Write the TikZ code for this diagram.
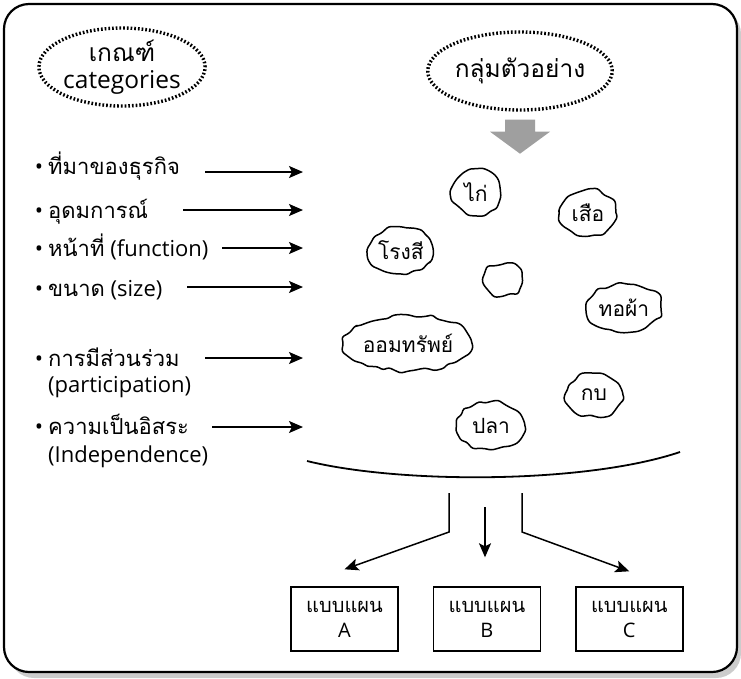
\documentclass[tikz,border=0pt]{standalone}
\usepackage{fontspec}
\setmainfont{Open Sans}
\newfontfamily\thaifont[Script=Thai]{Loma}
\usetikzlibrary{shapes.geometric,arrows.meta,positioning,calc,decorations.pathmorphing}

\begin{document}
\begin{tikzpicture}[
  x=1pt, y=-1pt,
  >={Stealth[length=14pt,width=12pt,inset=3pt]},
  every node/.style={align=center, inner sep=0pt},
  item/.style={anchor=base west, font=\fontsize{22}{26}\selectfont},
  ring/.style={ellipse, draw, line width=3.4pt, dash pattern=on 1.7pt off 2pt, minimum width=136pt, minimum height=78pt, font=\fontsize{24.5}{27}\selectfont},
  blob/.style={ellipse, draw, line width=1.5pt, line join=round, decorate, decoration={random steps, segment length=7pt, amplitude=2.4pt, pre length=3pt, post length=3pt}, rounded corners=2.5pt, font=\fontsize{21}{24}\selectfont},
  plan/.style={rectangle, draw, line width=1.4pt, minimum width=107pt, minimum height=64pt, font=\fontsize{20}{25}\selectfont},
  feed/.style={->, line width=1.5pt}
]
  \pgfmathsetseed{11}
  \useasboundingbox (0,0) rectangle (741,678);

  % Outer panel with shadow
  \fill[gray!40, rounded corners=25pt] (9,9) rectangle (741,678);
  \draw[line width=2.2pt, fill=white, rounded corners=25pt] (4,4) rectangle (737,672);

  % Heads of both columns
  \node[ring] (crit) at (122,67) {{\thaifont เกณฑ์}\\categories};
  \node[ring] (sample) at (520,71) {{\thaifont กลุ่มตัวอย่าง}};
  \coordinate (gtop) at ($(sample.south)+(0,8)$);
  \fill[gray!75] ($(gtop)+(-15,0)$) -- ++(30,0) -- ++(0,12) -- ++(15,0) -- ++(-30,22) -- ++(-30,-22) -- ++(15,0) -- cycle;

  % Criteria (left column)
  \node[item] (c1) at (48,174) {\llap{\textbullet\hspace{5pt}}{\thaifont ที่มาของธุรกิจ}};
  \node[item] (c2) at (48,218) {\llap{\textbullet\hspace{5pt}}{\thaifont อุดมการณ์}};
  \node[item] (c3) at (48,256) {\llap{\textbullet\hspace{5pt}}{\thaifont หน้าที่} (function)};
  \node[item] (c4) at (48,296) {\llap{\textbullet\hspace{5pt}}{\thaifont ขนาด} (size)};
  \node[item] (c5) at (48,366) {\llap{\textbullet\hspace{5pt}}{\thaifont การมีส่วนร่วม}};
  \node[item] (c5b) at (48,392) {(participation)};
  \node[item] (c6) at (48,434) {\llap{\textbullet\hspace{5pt}}{\thaifont ความเป็นอิสระ}};
  \node[item] (c6b) at (48,462) {(Independence)};

  \coordinate (s1) at (205,172); \coordinate (e1) at (303,172);
  \coordinate (s2) at (183,210); \coordinate (e2) at (303,210);
  \coordinate (s3) at (222,248); \coordinate (e3) at (303,248);
  \coordinate (s4) at (187,287); \coordinate (e4) at (303,287);
  \coordinate (s5) at (205,358); \coordinate (e5) at (303,358);
  \coordinate (s6) at (212,427); \coordinate (e6) at (303,427);

  % Sample units (right column)
  \node[blob, minimum width=49pt, minimum height=45pt] (kai) at (476,192) {{\thaifont ไก่}};
  \node[blob, minimum width=56pt, minimum height=46pt] (suea) at (588,213) {{\thaifont เสือ}};
  \node[blob, minimum width=64pt, minimum height=46pt] (rongsi) at (401,250) {{\thaifont โรงสี}};
  \node[blob, minimum width=39pt, minimum height=31pt] (blank) at (503,280) {};
  \node[blob, minimum width=74pt, minimum height=49pt] (thopha) at (624,308) {{\thaifont ทอผ้า}};
  \node[blob, minimum width=99pt, minimum height=56pt] (omsap) at (408,343) {{\thaifont ออมทรัพย์}};
  \node[blob, minimum width=58pt, minimum height=42pt] (kob) at (594,395) {{\thaifont กบ}};
  \node[blob, minimum width=68pt, minimum height=48pt] (pla) at (491,426) {{\thaifont ปลา}};

  % Collecting curve
  \coordinate (cl) at (307,461);
  \coordinate (cr) at (680,452);
  \draw[line width=1.8pt] (cl) .. controls (400,484) and (585,484) .. (cr);

  % Resulting patterns
  \node[plan] (planA) at (344.5,619) {{\thaifont แบบแผน}\\A};
  \node[plan, right=34pt of planA] (planB) {{\thaifont แบบแผน}\\B};
  \node[plan, right=34pt of planB] (planC) {{\thaifont แบบแผน}\\C};

  % Connectors
  \draw[feed] (s1) -- (e1);
  \draw[feed] (s2) -- (e2);
  \draw[feed] (s3) -- (e3);
  \draw[feed] (s4) -- (e4);
  \draw[feed] (s5) -- (e5);
  \draw[feed] (s6) -- (e6);

  \coordinate (la) at (449,493);
  \coordinate (ma) at (485,507);
  \coordinate (ra) at (522,493);
  \draw[feed] (la) -- ++(0,39) -- ([yshift=17pt]planA.north);
  \draw[feed] (ma) -- ([yshift=29pt]planB.north -| ma);
  \draw[feed] (ra) -- ++(0,39) -- ([yshift=15pt]planC.north);
\end{tikzpicture}
\end{document}
